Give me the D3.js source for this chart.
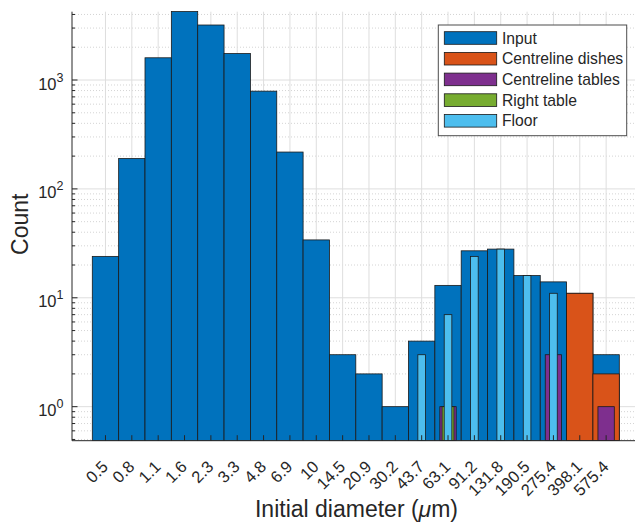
<!DOCTYPE html>
<html>
<head>
<meta charset="utf-8">
<script src="https://cdn.jsdelivr.net/npm/d3@7"></script>
<style>
  html, body { margin: 0; padding: 0; background: #fff; }
  svg { display: block; font-family: "Liberation Sans", Arial, Helvetica, sans-serif; }
</style>
</head>
<body>
<svg id="chart" width="635" height="525"></svg>
<script>
// ---- data ----
const categories = ["0.5","0.8","1.1","1.6","2.3","3.3","4.8","6.9","10","14.5","20.9","30.2","43.7","63.1","91.2","131.8","190.5","275.4","398.1","575.4"];
const inputCounts      = [24,190,1600,4250,3200,1750,790,218,34,3,2,1,4,13,27,28,16,14,11,3];
const dishesCounts     = [0,0,0,0,0,0,0,0,0,0,0,0,0,0,0,0,0,0,11,2];
const tablesCounts     = [0,0,0,0,0,0,0,0,0,0,0,0,0,1,0,0,0,3,0,1];
const rightTableCounts = [0,0,0,0,0,0,0,0,0,0,0,0,0,1,0,0,0,0,0,0];
const floorCounts      = [0,0,0,0,0,0,0,0,0,0,0,0,3,7,24,28,16,11,0,0];
const seriesNames = ["Input","Centreline dishes","Centreline tables","Right table","Floor"];
const yTickLabels = ["0","1","2","3"]; // exponents of 10

// ---- layout ----
const svg = d3.select("#chart");
const axLeft = 72, axRight = 639, axTop = 11.7, axBottom = 440.7;
const textColor = "#262626";

const x = d3.scaleBand().domain(categories).range([92.3, 619.3]).padding(0);
const y = d3.scaleLog().domain([0.487, 4240]).range([axBottom, axTop]);

const series = [
  {name: seriesNames[0], values: inputCounts,      color: "#0072BD", width: 1.0},
  {name: seriesNames[1], values: dishesCounts,     color: "#D95319", width: 1.0},
  {name: seriesNames[2], values: tablesCounts,     color: "#7E2F8E", width: 0.62},
  {name: seriesNames[3], values: rightTableCounts, color: "#77AC30", width: 0.45},
  {name: seriesNames[4], values: floorCounts,      color: "#4DBEEE", width: 0.29}
];

svg.append("defs").append("clipPath").attr("id","plotclip")
  .append("rect").attr("x", axLeft).attr("y", axTop - 1)
  .attr("width", axRight - axLeft).attr("height", axBottom - axTop + 1);

// ---- grid ----
const grid = svg.append("g");
const majors = [1, 10, 100, 1000];
const minors = [];
[0.1, 1, 10, 100, 1000].forEach(d => { for (let k = 2; k <= 9; k++) { const v = d * k; if (v >= y.domain()[0] && v <= y.domain()[1]) minors.push(v); } });

grid.selectAll("line.minor").data(minors).join("line")
  .attr("x1", axLeft).attr("x2", axRight)
  .attr("y1", d => y(d)).attr("y2", d => y(d))
  .attr("stroke", "#d4d4d4").attr("stroke-width", 1).attr("stroke-dasharray", "1,2");
grid.selectAll("line.vx").data(categories).join("line")
  .attr("x1", d => x(d) + x.bandwidth()/2).attr("x2", d => x(d) + x.bandwidth()/2)
  .attr("y1", axTop).attr("y2", axBottom)
  .attr("stroke", "#dedede").attr("stroke-width", 1);
grid.selectAll("line.major").data(majors).join("line")
  .attr("x1", axLeft).attr("x2", axRight)
  .attr("y1", d => y(d)).attr("y2", d => y(d))
  .attr("stroke", "#dedede").attr("stroke-width", 1);

// ---- bars ----
const barsG = svg.append("g").attr("clip-path", "url(#plotclip)");
series.forEach(s => {
  const data = categories.map((c, i) => ({c, v: s.values[i]})).filter(d => d.v > 0);
  barsG.append("g").selectAll("rect").data(data).join("rect")
    .attr("x", d => x(d.c) + x.bandwidth() * (1 - s.width) / 2)
    .attr("width", x.bandwidth() * s.width)
    .attr("y", d => y(d.v))
    .attr("height", d => axBottom - y(d.v))
    .attr("fill", s.color)
    .attr("stroke", "#1a1a1a").attr("stroke-width", 0.8);
});

// ---- axes ----
const axes = svg.append("g");
axes.append("line").attr("x1", axLeft).attr("x2", axRight).attr("y1", axBottom).attr("y2", axBottom)
  .attr("stroke", textColor).attr("stroke-width", 1);
axes.selectAll("line.xt").data(categories).join("line")
  .attr("x1", d => x(d) + x.bandwidth()/2).attr("x2", d => x(d) + x.bandwidth()/2)
  .attr("y1", axBottom).attr("y2", axBottom - 5.5)
  .attr("stroke", textColor).attr("stroke-width", 1);
axes.selectAll("text.xl").data(categories).join("text")
  .attr("transform", d => `translate(${x(d) + x.bandwidth()/2 + 0.5},${axBottom + 24}) rotate(-45)`)
  .attr("text-anchor", "end").attr("dominant-baseline", "middle")
  .attr("font-size", 16.5).attr("fill", textColor)
  .text(d => d);

axes.append("line").attr("x1", axLeft).attr("x2", axLeft).attr("y1", axTop).attr("y2", axBottom)
  .attr("stroke", textColor).attr("stroke-width", 1);
axes.selectAll("line.ymaj").data(majors).join("line")
  .attr("x1", axLeft).attr("x2", axLeft + 5.5)
  .attr("y1", d => y(d)).attr("y2", d => y(d))
  .attr("stroke", textColor).attr("stroke-width", 1);
axes.selectAll("line.ymin").data(minors).join("line")
  .attr("x1", axLeft).attr("x2", axLeft + 3)
  .attr("y1", d => y(d)).attr("y2", d => y(d))
  .attr("stroke", textColor).attr("stroke-width", 1);
const ylab = axes.selectAll("text.yl").data(majors).join("text")
  .attr("x", 63.5).attr("y", d => y(d) + 9.5)
  .attr("text-anchor", "end").attr("font-size", 16.5).attr("fill", textColor);
ylab.append("tspan").text("10");
ylab.append("tspan").attr("dy", -8).attr("font-size", 12.5).text((d, i) => yTickLabels[i]);

// axis titles
svg.append("text")
  .attr("transform", `translate(27.5,${(axTop + axBottom)/2 - 2}) rotate(-90)`)
  .attr("text-anchor", "middle").attr("font-size", 23).attr("fill", textColor)
  .text("Count");
const xt = svg.append("text")
  .attr("x", 356.5).attr("y", 517)
  .attr("text-anchor", "middle").attr("font-size", 23).attr("fill", textColor);
xt.append("tspan").text("Initial diameter (");
xt.append("tspan").attr("font-style", "italic").text("μ");
xt.append("tspan").text("m)");

// ---- legend ----
const lg = svg.append("g");
lg.append("rect").attr("x", 438.3).attr("y", 25).attr("width", 188.4).attr("height", 110.7)
  .attr("fill", "#fff").attr("stroke", "#4d4d4d").attr("stroke-width", 1);
const rows = lg.selectAll("g.row").data(series).join("g")
  .attr("transform", (d, i) => `translate(0,${38 + i * 20.7})`);
rows.append("rect").attr("x", 444.3).attr("y", -6.3).attr("width", 52.4).attr("height", 12.6)
  .attr("fill", d => d.color).attr("stroke", "#1a1a1a").attr("stroke-width", 0.8);
rows.append("text").attr("x", 502).attr("y", 0).attr("dominant-baseline", "central")
  .attr("font-size", 15.7).attr("fill", textColor).text(d => d.name);
</script>
</body>
</html>
